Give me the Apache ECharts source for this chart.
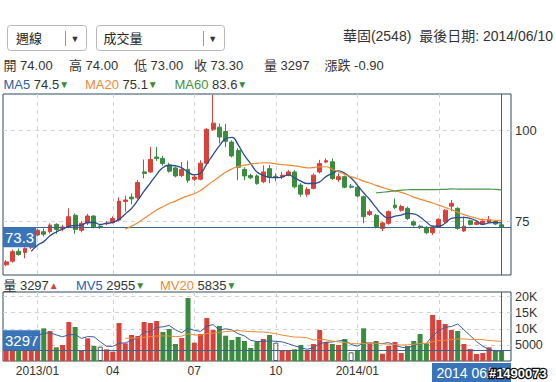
<!DOCTYPE html>
<html><head><meta charset="utf-8">
<script src="https://cdn.jsdelivr.net/npm/echarts@6/dist/echarts.min.js"></script>
<style>html,body{margin:0;padding:0;background:#fff;}#c{width:556px;height:382px;}</style>
</head><body><div id="c"></div>
<script>
const categories = [
'2012/11/30','2012/12/07','2012/12/14','2012/12/21','2012/12/28',
'2013/01/04','2013/01/11','2013/01/18','2013/01/25','2013/02/01',
'2013/02/08','2013/02/22','2013/03/01','2013/03/08','2013/03/15',
'2013/03/22','2013/03/29','2013/04/05','2013/04/12','2013/04/19',
'2013/04/26','2013/05/03','2013/05/10','2013/05/17','2013/05/24',
'2013/05/31','2013/06/07','2013/06/14','2013/06/21','2013/06/28',
'2013/07/05','2013/07/12','2013/07/19','2013/07/26','2013/08/02',
'2013/08/09','2013/08/16','2013/08/23','2013/08/30','2013/09/06',
'2013/09/13','2013/09/20','2013/09/27','2013/10/04','2013/10/11',
'2013/10/18','2013/10/25','2013/11/01','2013/11/08','2013/11/15',
'2013/11/22','2013/11/29','2013/12/06','2013/12/13','2013/12/20',
'2013/12/27','2014/01/03','2014/01/10','2014/01/17','2014/01/24',
'2014/01/28','2014/02/07','2014/02/14','2014/02/21','2014/02/28',
'2014/03/07','2014/03/14','2014/03/21','2014/03/28','2014/04/03',
'2014/04/11','2014/04/18','2014/04/25','2014/05/02','2014/05/09',
'2014/05/16','2014/05/23','2014/05/30','2014/06/06','2014/06/10'];

const opens = [63.0,64.0,66.7,66.4,67.8,71.2,72.1,72.1,74.1,72.9,
73.4,76.6,72.5,74.5,76.4,73.6,74.3,74.6,75.3,80.4,
81.6,81.4,88.5,88.5,92.6,92.2,90.4,89.6,87.5,89.2,
86.5,86.5,90.9,100.2,100.8,99.6,96.7,94.4,89.2,87.5,
87.4,85.8,89.4,87.3,87.2,87.6,88.5,84.9,82.4,84.0,
88.5,91.2,91.3,86.4,87.2,84.6,84.3,81.7,76.8,76.6,
73.0,74.4,79.4,78.0,78.5,74.8,73.6,73.3,71.8,73.4,
74.8,79.1,78.5,72.3,75.1,74.1,74.2,74.7,74.9,74.0];

const closes = [63.8,66.6,65.8,67.5,69.6,72.5,71.4,73.9,72.7,73.4,
76.2,72.7,74.4,76.4,73.4,73.4,74.4,75.7,80.5,80.8,
81.1,85.6,88.1,91.9,92.2,90.8,88.7,87.4,89.2,86.2,
87.1,90.9,100.2,101.9,98.1,96.9,92.9,89.8,87.4,86.9,
85.3,88.5,87.0,87.0,87.6,88.5,84.4,82.4,83.7,87.6,
90.8,91.6,86.7,87.2,84.3,84.3,81.9,76.2,77.6,73.4,
74.5,77.6,78.7,79.0,75.7,73.9,73.3,71.8,73.4,75.5,
78.0,79.9,73.0,73.6,74.1,74.6,75.0,75.3,74.2,73.3];

const lows = [62.6,63.6,65.5,64.8,67.3,70.8,70.8,71.6,71.5,72.2,
73.0,71.5,71.9,73.9,73.0,72.8,73.9,74.3,74.9,77.6,
79.6,81.0,86.7,88.2,91.5,90.2,88.3,87.0,87.1,85.5,
86.0,86.2,90.4,99.8,96.3,95.3,92.5,86.2,86.2,86.5,
85.0,85.4,85.4,85.9,86.5,87.3,84.0,81.7,81.7,83.7,
88.1,90.9,86.3,85.8,84.0,84.0,81.5,74.4,76.4,73.0,
72.3,74.0,78.3,77.6,75.3,73.5,72.8,71.4,71.2,73.1,
74.5,77.7,72.6,72.0,73.8,73.9,74.0,74.5,73.9,73.0];

const highs = [64.3,67.2,67.5,67.8,70.3,72.9,73.0,74.4,74.4,74.0,
78.5,77.1,75.0,77.0,76.6,74.2,75.0,76.3,81.5,82.0,
82.6,86.3,91.9,95.4,95.4,92.9,91.0,90.0,91.2,91.6,
87.6,91.7,100.5,109.7,101.8,101.7,97.2,95.0,89.8,88.0,
87.8,90.3,90.4,88.1,88.5,89.0,89.0,85.4,84.3,88.1,
91.8,92.2,92.2,88.1,87.5,85.2,84.6,82.0,78.2,77.0,
74.8,77.9,81.2,79.5,79.0,75.2,74.0,73.6,73.8,75.8,
78.3,80.8,78.8,76.2,75.4,74.9,75.7,76.4,75.2,74.0];

const volumes = [7000,6500,8500,7500,8000,8800,
10130,9300,4240,4960,12090,10540,3200,7030,4650,4440,
3620,2890,11780,5480,8060,7750,12090,11780,12400,8990,
9920,5270,7130,19530,5680,8370,13330,9610,10850,7850,
6510,7440,6200,4030,5990,6820,8060,5680,3100,3100,
3620,4960,3410,5270,9610,5890,5270,4960,6820,2690,
3200,10130,5270,6200,2270,4650,5890,2480,4650,6200,
8370,5480,14260,12710,11470,9610,9300,5270,3720,2170,
2480,4240,3150,3297];

const priceTicks = [75, 100];
const volumeTicks = [5000, 10000, 15000, 20000];
const quarterMonths = ['01','04','07','10'];

const FONT = "'Liberation Sans','Noto Sans CJK TC',sans-serif";
const RED = '#d9413b', GREEN = '#3a8c3f';
const FRAME = '#2e4a63', CURSOR = '#3b6585', TAG = '#3a74b8', DASH = '#d2d2d2';
const TEXT = '#333';

const n = categories.length;
const axisCats = categories.concat(['']);
function movingAvg(arr, k) {
  return arr.map((v, i) => {
    if (i < k - 1) return '-';
    let s = 0;
    for (let j = i - k + 1; j <= i; j++) s += arr[j];
    return +(s / k).toFixed(3);
  });
}
function isQuarterStart(i) {
  if (i <= 0 || i >= n) return false;
  const m = axisCats[i].slice(5, 7), pm = axisCats[i - 1].slice(5, 7);
  return m !== pm && quarterMonths.indexOf(m) >= 0;
}
const candleData = categories.map((c, i) => [opens[i], closes[i], lows[i], highs[i]]);
const volData = volumes.map((v, i) => {
  const prev = i > 0 ? closes[i - 1] : opens[i];
  const d = +(closes[i] - prev).toFixed(3);
  let st;
  if (d === 0) st = { color: '#fff', borderColor: '#555', borderWidth: 1 };
  else st = { color: d > 0 ? RED : GREEN };
  return { value: v, itemStyle: st };
});
const lastCat = categories[n - 1];
const lastClose = closes[n - 1];
const lastVol = volumes[n - 1];
const lastLabel = lastCat.replace('/', ' ');

function txt(x, y, text, size, fill, extra) {
  return { type: 'text', x: x, y: y, silent: true, z: 50,
    style: Object.assign({ text: text, fill: fill, font: size + 'px ' + FONT,
      align: 'left', verticalAlign: 'middle', textAlign: 'left', textVerticalAlign: 'middle' }, extra || {}) };
}
function rich(x, y, text, size, styles) {
  const r = {};
  Object.keys(styles).forEach(k => {
    const s = styles[k];
    r[k] = { fill: s.fill, font: (s.size || size) + 'px ' + FONT };
  });
  return txt(x, y, text, size, TEXT, { rich: r });
}

const chart = echarts.init(document.getElementById('c'), null, { renderer: 'svg' });
const splitX = { show: true, interval: (i) => isQuarterStart(i), alignWithLabel: true,
  lineStyle: { color: DASH, type: [4, 4], width: 1 } };

chart.setOption({
  animation: false,
  backgroundColor: '#fff',
  textStyle: { fontFamily: FONT },
  grid: [
    { left: 3, right: 45, top: 94, height: 181, show: true, borderColor: FRAME, borderWidth: 1, containLabel: false, outerBoundsMode: 'none' },
    { left: 3, right: 45, top: 292, height: 69, show: true, borderColor: FRAME, borderWidth: 1, containLabel: false, outerBoundsMode: 'none' }
  ],
  xAxis: [
    { type: 'category', gridIndex: 0, data: axisCats, boundaryGap: true,
      axisLine: { show: false }, axisTick: { show: false }, axisLabel: { show: false },
      splitLine: splitX },
    { type: 'category', gridIndex: 1, data: axisCats, boundaryGap: true,
      axisLine: { show: false }, axisTick: { show: false },
      axisLabel: { show: true, interval: (i) => isQuarterStart(i), color: TEXT, fontSize: 12, margin: 4, fontFamily: FONT,
        formatter: (v) => v.slice(5, 7) === '01' ? v.slice(0, 7) : v.slice(5, 7) },
      splitLine: splitX }
  ],
  yAxis: [
    { type: 'value', gridIndex: 0, position: 'right', min: 60.2, max: 109.9, scale: true,
      axisLine: { show: false }, axisTick: { show: false, customValues: priceTicks },
      axisLabel: { customValues: priceTicks, color: TEXT, fontSize: 13, margin: 4, fontFamily: FONT },
      splitLine: { show: true, lineStyle: { color: DASH, type: [4, 4] } } },
    { type: 'value', gridIndex: 1, position: 'right', min: 0, max: 21400,
      axisLine: { show: false }, axisTick: { show: false, customValues: volumeTicks },
      axisLabel: { customValues: volumeTicks, color: TEXT, fontSize: 12.5, margin: 4, fontFamily: FONT,
        formatter: (v) => v >= 10000 ? (v / 1000) + 'K' : String(v) },
      splitLine: { show: true, lineStyle: { color: DASH, type: [4, 4] } } }
  ],
  series: [
    { type: 'candlestick', name: 'K', xAxisIndex: 0, yAxisIndex: 0, data: candleData, barWidth: 4.4,
      itemStyle: { color: RED, color0: GREEN, borderColor: RED, borderColor0: GREEN, borderWidth: 1 },
      markLine: { silent: true, symbol: 'none', animation: false,
        data: [
          { yAxis: lastClose, lineStyle: { color: CURSOR, width: 1, type: 'solid' },
            label: { show: true, position: 'insideStartBottom', distance: [0, 0], formatter: lastClose.toFixed(1),
              color: '#fff', backgroundColor: TAG, padding: [3, 2, 2, 2], fontSize: 15, fontFamily: FONT } },
          { xAxis: lastCat, lineStyle: { color: CURSOR, width: 1, type: 'solid' }, label: { show: false } }
        ] } },
    { type: 'line', name: 'MA5', xAxisIndex: 0, yAxisIndex: 0, data: movingAvg(closes, 5), showSymbol: false, smooth: true,
      lineStyle: { color: '#2a4c93', width: 1.3 }, z: 5 },
    { type: 'line', name: 'MA20', xAxisIndex: 0, yAxisIndex: 0, data: movingAvg(closes, 20), showSymbol: false, smooth: true,
      lineStyle: { color: '#ee8a34', width: 1.2 }, z: 5 },
    { type: 'line', name: 'MA60', xAxisIndex: 0, yAxisIndex: 0, data: movingAvg(closes, 60), showSymbol: false, smooth: true,
      lineStyle: { color: '#4a944a', width: 1.2 }, z: 5 },
    { type: 'bar', name: 'VOL', xAxisIndex: 1, yAxisIndex: 1, data: volData, barWidth: 5,
      markLine: { silent: true, symbol: 'none', animation: false,
        data: [
          { yAxis: lastVol, lineStyle: { color: CURSOR, width: 1, type: 'solid' },
            label: { show: true, position: 'insideStartTop', distance: [0, 0], formatter: String(lastVol),
              color: '#fff', backgroundColor: TAG, padding: [3, 2, 2, 2], fontSize: 15, fontFamily: FONT } },
          { xAxis: lastCat, lineStyle: { color: CURSOR, width: 1, type: 'solid' }, label: { show: false } }
        ] } },
    { type: 'line', name: 'MV5', xAxisIndex: 1, yAxisIndex: 1, data: movingAvg(volumes, 5), showSymbol: false, smooth: false,
      lineStyle: { color: '#3a5ba3', width: 1 }, z: 5 },
    { type: 'line', name: 'MV20', xAxisIndex: 1, yAxisIndex: 1, data: movingAvg(volumes, 20), showSymbol: false, smooth: false,
      lineStyle: { color: '#ee8a34', width: 1 }, z: 5 }
  ],
  graphic: [
    { type: 'rect', shape: { x: 7.5, y: 25.5, width: 79, height: 25, r: 3 }, style: { fill: '#fff', stroke: '#b8b8b8', lineWidth: 1 }, silent: true },
    { type: 'line', shape: { x1: 65.5, y1: 31, x2: 65.5, y2: 46 }, style: { stroke: '#999', lineWidth: 1 }, silent: true },
    txt(16, 38.5, '週線', 13, '#222'),
    txt(75, 38.5, '▼', 9, '#333', { align: 'center', textAlign: 'center' }),
    { type: 'rect', shape: { x: 96.5, y: 25.5, width: 128, height: 25, r: 3 }, style: { fill: '#fff', stroke: '#b8b8b8', lineWidth: 1 }, silent: true },
    { type: 'line', shape: { x1: 203.5, y1: 31, x2: 203.5, y2: 46 }, style: { stroke: '#999', lineWidth: 1 }, silent: true },
    txt(103.5, 38.5, '成交量', 13, '#222'),
    txt(212.8, 38.5, '▼', 9, '#333', { align: 'center', textAlign: 'center' }),
    txt(553, 35.5, '華固(2548)  最後日期: 2014/06/10', 14, TEXT, { align: 'right', textAlign: 'right' }),
    txt(3.5, 65.6, '開 74.00', 13, TEXT),
    txt(69, 65.6, '高 74.00', 13, TEXT),
    txt(134, 65.6, '低 73.00', 13, TEXT),
    txt(194, 65.6, '收 73.30', 13, TEXT),
    txt(264, 65.6, '量 3297', 13, TEXT),
    txt(324.5, 65.6, '漲跌 -0.90', 13, TEXT),
    rich(3.5, 84, '{m|MA5} {v|74.5}{d|▼}', 13, { m: { fill: '#2f5ea8' }, v: { fill: TEXT }, d: { fill: GREEN, size: 10 } }),
    rich(85, 84, '{m|MA20} {v|75.1}{d|▼}', 13, { m: { fill: '#ee8a34' }, v: { fill: TEXT }, d: { fill: GREEN, size: 10 } }),
    rich(174.5, 84, '{m|MA60} {v|83.6}{d|▼}', 13, { m: { fill: '#3f923f' }, v: { fill: TEXT }, d: { fill: GREEN, size: 10 } }),
    rich(3.3, 285, '{v|量 3297}{u|▲}', 13, { v: { fill: TEXT }, u: { fill: RED, size: 10 } }),
    rich(76, 285, '{m|MV5} {v|2955}{d|▼}', 13, { m: { fill: '#2f5ea8' }, v: { fill: TEXT }, d: { fill: GREEN, size: 10 } }),
    rich(160, 285, '{m|MV20} {v|5835}{d|▼}', 13, { m: { fill: '#ee8a34' }, v: { fill: TEXT }, d: { fill: GREEN, size: 10 } }),
    { type: 'group', right: 45, bottom: 0, z: 100, children: [
      { type: 'rect', shape: { x: 0, y: 0, width: 79, height: 19 }, style: { fill: TAG }, z: 100 },
      { type: 'text', x: 39.5, y: 10, z: 101, style: { text: lastLabel, fill: '#fff', font: '14px ' + FONT,
        align: 'center', verticalAlign: 'middle', textAlign: 'center', textVerticalAlign: 'middle' } }
    ] },
    { type: 'text', right: 8, top: 366, z: 110, silent: true,
      style: { text: '#1490073', fill: '#fff', stroke: '#111', lineWidth: 2.5, font: 'bold 13px ' + FONT } }
  ]
});
</script>
</body></html>
